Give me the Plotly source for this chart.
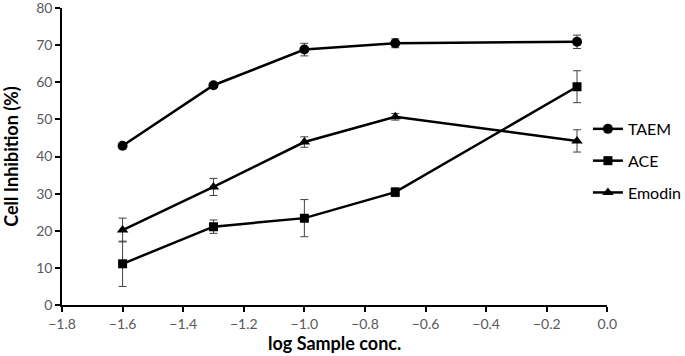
import plotly.graph_objects as go

log_conc = [-1.6, -1.3, -1.0, -0.7, -0.1]
taem = [42.9, 59.2, 68.8, 70.5, 70.9]
taem_err = [0.6, 0.6, 1.7, 1.2, 1.8]
ace = [11.1, 21.1, 23.4, 30.4, 58.8]
ace_err = [6.1, 1.8, 5.0, 1.2, 4.3]
emodin = [20.2, 31.8, 43.9, 50.7, 44.2]
emodin_err = [3.2, 2.3, 1.4, 0.9, 3.0]

series = [("TAEM", taem, taem_err, "circle", 10),
          ("ACE", ace, ace_err, "square", 9),
          ("Emodin", emodin, emodin_err, "triangle-up", 10)]

fig = go.Figure()
for name, vals, err, sym, sz in series:
    fig.add_trace(go.Scatter(
        x=log_conc, y=vals, name=name, mode="lines+markers",
        legendgroup=name,
        line=dict(color="black", width=2.5),
        marker=dict(symbol=sym, size=sz, color="black"),
        error_y=dict(type="data", array=err, visible=True, color="#404040",
                     thickness=1, width=4),
    ))

FONT = "Lato, Open Sans, Liberation Sans, sans-serif"
fig.update_layout(
    width=685, height=356,
    margin=dict(l=62, r=5, t=8, b=51, autoexpand=False),
    plot_bgcolor="white", paper_bgcolor="white",
    font=dict(family=FONT, color="#595959", size=14),
    showlegend=True,
    legend=dict(x=0.851, xanchor="left", y=0.485, yanchor="middle",
                font=dict(size=16, color="black"),
                tracegroupgap=8, traceorder="grouped",
                itemwidth=30, bgcolor="rgba(0,0,0,0)"),
    xaxis=dict(domain=[0, 0.8824], range=[-1.8, 0.0], dtick=0.2, tickformat=".1f",
               automargin=False, ticklabeloverflow="allow",
               showline=True, linecolor="black", linewidth=1.5,
               ticks="outside", ticklen=5, tickcolor="black", tickwidth=1.5,
               showgrid=False, zeroline=False,
               title=dict(text="<b>log Sample conc.</b>", standoff=7,
                          font=dict(size=18, color="black"))),
    yaxis=dict(range=[0, 80], dtick=10, automargin=False, ticklabeloverflow="allow",
               showline=True, linecolor="black", linewidth=1.5,
               ticks="outside", ticklen=5, tickcolor="black", tickwidth=1.5,
               showgrid=False, zeroline=False,
               title=dict(text="<b>Cell Inhibition (%)</b>", standoff=18,
                          font=dict(size=18, color="black"))),
)

fig.write_html("out.html", config={"displayModeBar": False},
               post_script="document.body.style.margin='0';document.body.style.padding='0';")
